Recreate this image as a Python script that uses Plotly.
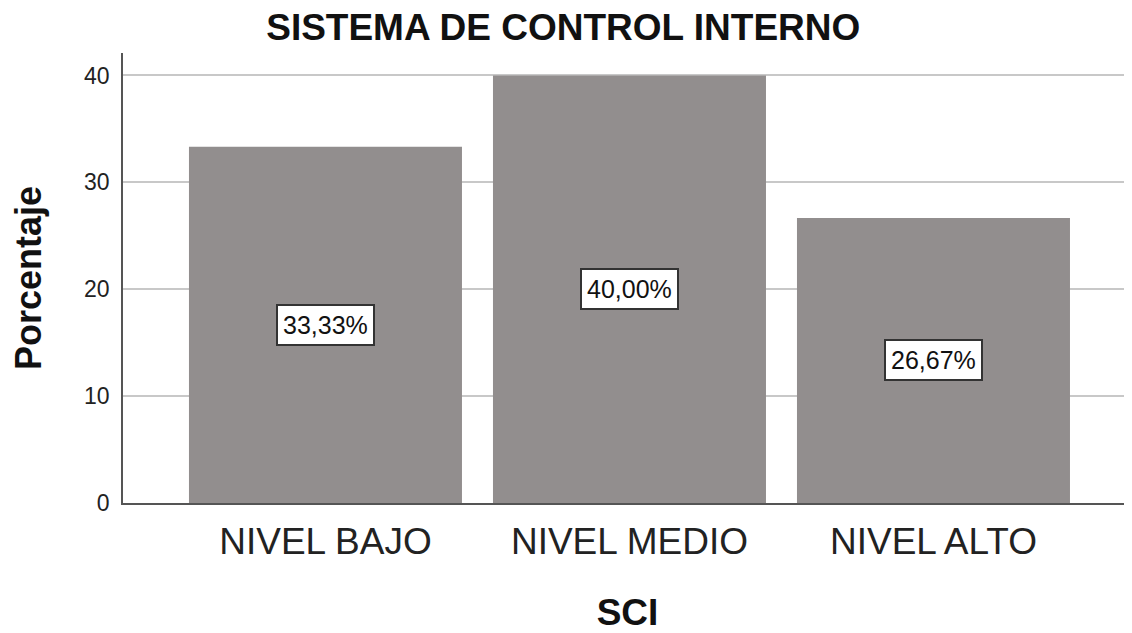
import plotly.graph_objects as go

categories = ["NIVEL BAJO", "NIVEL MEDIO", "NIVEL ALTO"]
values = [33.33, 40.00, 26.67]
labels = ["33,33%", "40,00%", "26,67%"]

FONT = "Arial, Liberation Sans, sans-serif"

fig = go.Figure()
fig.add_trace(go.Bar(
    x=list(range(len(categories))), y=values,
    width=0.898,
    marker=dict(color="#928e8e", line=dict(width=0)),
    hoverinfo="skip",
))

for i, (v, t) in enumerate(zip(values, labels)):
    fig.add_annotation(
        x=i, y=v / 2, text=t, showarrow=False,
        font=dict(family=FONT, size=25, color="#111111"),
        bgcolor="white", bordercolor="#333333", borderwidth=2, borderpad=5,
        xref="x", yref="y",
    )

# page body has an 8px default margin, so the figure is sized/offset to compensate
fig.update_layout(
    width=1124, height=625,
    margin=dict(l=115, r=0, t=45, b=130),
    paper_bgcolor="white", plot_bgcolor="white",
    showlegend=False,
    title=dict(text="<b>SISTEMA DE CONTROL INTERNO</b>", x=0.494, xanchor="center",
               y=0.97, yanchor="middle",
               font=dict(family=FONT, size=37, color="#111111")),
    font=dict(family=FONT, color="#111111"),
)
fig.update_xaxes(
    range=[-0.666, 2.653],
    tickmode="array", tickvals=list(range(len(categories))), ticktext=categories,
    tickfont=dict(size=37, color="#222222"),
    showgrid=False, zeroline=False,
    showline=True, linecolor="#555555", linewidth=1.5,
    ticks="outside", ticklen=5, tickcolor="rgba(0,0,0,0)",
    title=dict(text="<b>SCI</b>", font=dict(size=37, color="#111111"), standoff=38),
)
fig.update_yaxes(
    range=[0, 42.1],
    tickvals=[0, 10, 20, 30, 40],
    tickfont=dict(size=23, color="#222222"),
    showgrid=True, gridcolor="#c8c8c8", gridwidth=2,
    zeroline=False,
    showline=True, linecolor="#555555", linewidth=1.5,
    ticks="outside", ticklen=7, tickcolor="rgba(0,0,0,0)",
    title=dict(text="<b>Porcentaje</b>", font=dict(size=36, color="#111111"), standoff=35),
)

fig.write_html("out.html")
